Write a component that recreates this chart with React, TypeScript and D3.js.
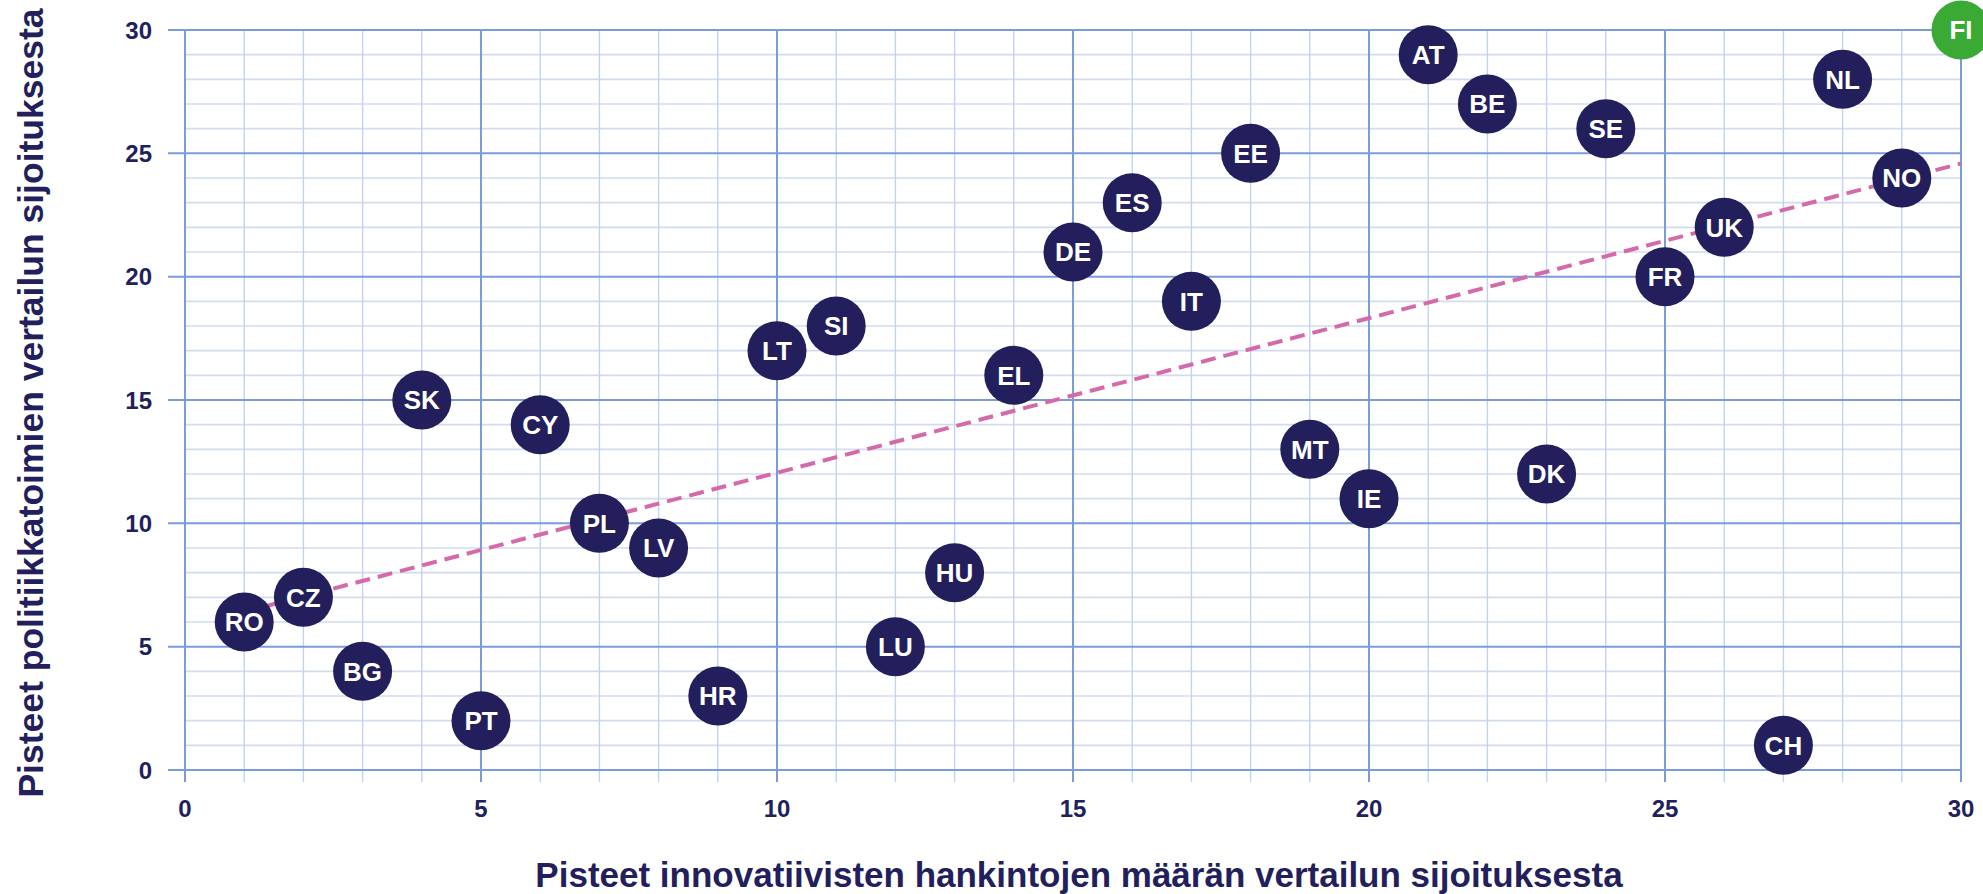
import React from "react";
import * as d3 from "d3";

const countries = ["RO","CZ","BG","SK","PT","CY","PL","LV","HR","LT","SI","LU","HU","EL","DE","ES","IT","EE","MT","IE","AT","BE","DK","SE","FR","UK","CH","NL","NO","FI"];
const innovationScore = [1,2,3,4,5,6,7,8,9,10,11,12,13,14,15,16,17,18,19,20,21,22,23,24,25,26,27,28,29,30];
const policyScore = [6,7,4,15,2,14,10,9,3,17,18,5,8,16,21,23,19,25,13,11,29,27,12,26,20,22,1,28,24,30];
const highlighted = ["FI"];
const xTicks = [0,5,10,15,20,25,30];
const yTicks = [0,5,10,15,20,25,30];
const xTitle = "Pisteet innovatiivisten hankintojen määrän vertailun sijoituksesta";
const yTitle = "Pisteet politiikkatoimien vertailun sijoituksesta";

const W = 1983, H = 894;
const M = { left: 185, right: 1961, top: 30, bottom: 770 };
const NAVY = "#221f5c";
const GREEN = "#3aaa35";
const MAJOR = "#7b9cd9";
const MINOR_V = "#c3d2ef";
const MINOR_H = "#d3dcee";
const FONT = "'Liberation Sans', Arial, Helvetica, sans-serif";

export default function App() {
  const x = d3.scaleLinear().domain([0, 30]).range([M.left, M.right]);
  const y = d3.scaleLinear().domain([0, 30]).range([M.bottom, M.top]);
  const minor = d3.range(0, 31);

  // linear regression trend line
  const mx = d3.mean(innovationScore)!;
  const my = d3.mean(policyScore)!;
  let sxy = 0, sxx = 0;
  innovationScore.forEach((v, i) => { sxy += (v - mx) * (policyScore[i] - my); sxx += (v - mx) * (v - mx); });
  const slope = sxy / sxx;
  const intercept = my - slope * mx;
  const x0 = d3.min(innovationScore)!, x1 = 30;
  const line = d3.line<[number, number]>().x(d => x(d[0])).y(d => y(d[1]));
  const trend = line([[x0, intercept + slope * x0], [x1, intercept + slope * x1]]);

  return (
    <>
      <style>{"body{margin:0}"}</style>
      <svg width={W} height={H} style={{ position: "absolute", left: 0, top: 0, display: "block" }} fontFamily={FONT}>
        <rect width={W} height={H} fill="#fff" />
        {minor.filter(v => v % 5 !== 0).map(v => (
          <line key={"mh" + v} x1={M.left} x2={M.right} y1={y(v)} y2={y(v)} stroke={MINOR_H} strokeWidth={1.6} />
        ))}
        {minor.filter(v => v % 5 !== 0).map(v => (
          <line key={"mv" + v} x1={x(v)} x2={x(v)} y1={M.top} y2={M.bottom + 12} stroke={MINOR_V} strokeWidth={1.4} />
        ))}
        {yTicks.map(v => (
          <line key={"Mh" + v} x1={M.left - 17} x2={M.right} y1={y(v)} y2={y(v)} stroke={MAJOR} strokeWidth={2} />
        ))}
        {xTicks.map(v => (
          <line key={"Mv" + v} x1={x(v)} x2={x(v)} y1={M.top} y2={M.bottom + 12} stroke={MAJOR} strokeWidth={2} />
        ))}
        {yTicks.map(v => (
          <text key={"yt" + v} x={152} y={y(v)} dy="0.36em" textAnchor="end" fontSize={24} fontWeight="bold" fill={NAVY}>{v}</text>
        ))}
        {xTicks.map(v => (
          <text key={"xt" + v} x={x(v)} y={817} textAnchor="middle" fontSize={24} fontWeight="bold" fill={NAVY}>{v}</text>
        ))}
        <path d={trend || ""} fill="none" stroke="#d46aa9" strokeWidth={4} strokeDasharray="15 8" />
        {countries.map((c, i) => {
          const cx = x(innovationScore[i]);
          const cy = y(policyScore[i]);
          return (
            <g key={c}>
              <circle cx={cx} cy={cy} r={29.5} fill={highlighted.includes(c) ? GREEN : NAVY} />
              <text x={cx} y={cy} dy="0.36em" textAnchor="middle" fontSize={26} fontWeight="bold" fill="#fff">{c}</text>
            </g>
          );
        })}
        <text x={1079} y={887} textAnchor="middle" fontSize={35} fontWeight="bold" fill={NAVY}>{xTitle}</text>
        <text transform={`translate(43, ${(M.top + M.bottom) / 2 + 3}) rotate(-90)`} textAnchor="middle" fontSize={35.5} fontWeight="bold" fill={NAVY}>{yTitle}</text>
      </svg>
    </>
  );
}
